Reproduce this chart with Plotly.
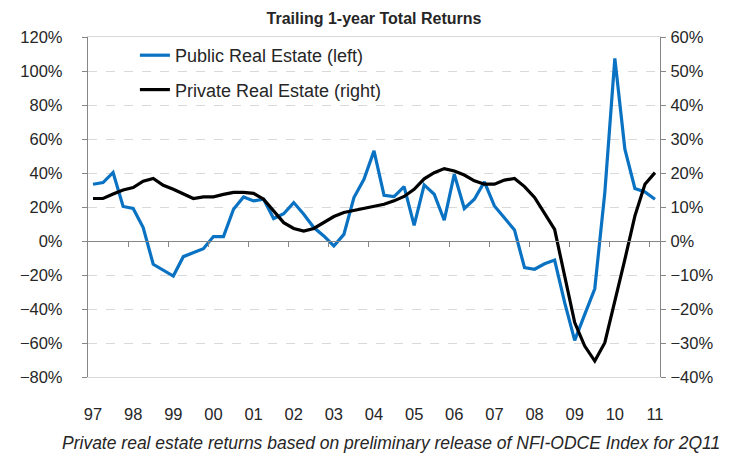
import plotly.graph_objects as go

# Quarterly data, 1997 .. 2011 (57 quarters)
year_labels = ["97", "98", "99", "00", "01", "02", "03", "04", "05", "06", "07", "08", "09", "10", "11"]

public_re = [33.4, 34.4, 40.3, 20.3, 19.1, 7.9, -13.7, -17.3, -20.6, -9.2,
             -6.8, -4.5, 2.6, 2.6, 18.7, 25.9, 23.6, 24.6, 13.2, 16.0,
             22.6, 15.7, 7.9, 3.0, -2.9, 3.9, 25.6, 36.3, 53.0, 26.9,
             26.1, 32.0, 9.2, 33.0, 27.5, 12.2, 39.3, 19.1, 24.6, 34.8,
             20.6, 13.2, 6.5, -15.7, -16.6, -13.4, -11.2, -36.3, -58.5, -43.2,
             -28.1, 28.5, 107.4, 54.0, 30.9, 28.9, 24.6]

private_re = [12.5, 12.5, 13.8, 15.0, 15.7, 17.6, 18.4, 16.4, 15.2, 13.8,
              12.5, 13.0, 13.0, 13.7, 14.3, 14.3, 14.0, 12.3, 8.8, 5.4,
              3.7, 2.9, 3.7, 5.4, 7.2, 8.4, 9.0, 9.5, 10.1, 10.8,
              11.8, 13.1, 15.2, 18.3, 20.1, 21.3, 20.6, 19.4, 17.7, 16.7,
              16.7, 17.9, 18.4, 16.0, 12.8, 8.0, 3.4, -10.3, -24.0, -30.9,
              -35.3, -29.9, -18.1, -5.4, 7.4, 16.7, 20.1]

quarters = list(range(len(public_re)))
label_pos = quarters[::4]
boundary_ticks = [q - 0.5 for q in quarters[4::4]]

FONT = "Liberation Sans, Arial, sans-serif"
AXIS = "#868686"
GRID = "#D9D9D9"
TXT = "#262626"

# page has an 8px default body margin; figure sized to fit the 736x454 window
W, H = 728, 446

fig = go.Figure()
fig.add_trace(go.Scatter(x=quarters, y=public_re, mode="lines", name="Public Real Estate (left)",
                         line=dict(color="#0A72C2", width=3.2), xaxis="x", yaxis="y",
                         legendgroup="a"))
fig.add_trace(go.Scatter(x=quarters, y=private_re, mode="lines", name="Private Real Estate (right)",
                         line=dict(color="#000000", width=3.2), xaxis="x2", yaxis="y2",
                         legendgroup="b"))

fig.update_layout(
    width=W, height=H,
    margin=dict(l=80, r=76, t=29, b=77),
    paper_bgcolor="white", plot_bgcolor="white",
    font=dict(family=FONT, size=16, color=TXT),
    title=dict(text="<b>Trailing 1-year Total Returns</b>", x=0.5, xref="paper",
               y=1 - 10 / H, yref="container", yanchor="middle",
               font=dict(family=FONT, size=16, color=TXT)),
    showlegend=True,
    legend=dict(x=0.082, y=1.0, xanchor="left", yanchor="top", bgcolor="rgba(0,0,0,0)",
                font=dict(family=FONT, size=18, color=TXT), tracegroupgap=8,
                traceorder="grouped"),
    xaxis=dict(range=[-0.5, len(quarters) - 0.5], tickmode="array", tickvals=label_pos,
               ticktext=year_labels, ticks="outside", ticklen=22, tickcolor="rgba(0,0,0,0)",
               showgrid=False, zeroline=False,
               showline=True, linecolor=GRID, linewidth=1, mirror=True, automargin=False,
               tickfont=dict(family=FONT, size=16.5, color=TXT)),
    xaxis2=dict(range=[-0.5, len(quarters) - 0.5], overlaying="x", anchor="free", position=0.4,
                side="bottom", tickmode="array", tickvals=boundary_ticks, ticks="outside",
                ticklen=5, tickcolor=AXIS, showticklabels=False, showgrid=False, automargin=False,
                zeroline=False, showline=True, linecolor=AXIS, linewidth=1.3),
    yaxis=dict(range=[-80, 120], dtick=20, tick0=0, ticksuffix="%", ticks="outside", ticklen=5,
               tickcolor=AXIS, showline=True, linecolor=AXIS, linewidth=1.3,
               showgrid=True, gridcolor=GRID, griddash="dash", gridwidth=1.3,
               zeroline=False, ticklabelstandoff=16, automargin=False,
               tickfont=dict(family=FONT, size=16.5, color=TXT)),
    yaxis2=dict(range=[-40, 60], dtick=10, tick0=0, ticksuffix="%", overlaying="y", side="right",
                anchor="x", ticks="outside", ticklen=5, tickcolor=AXIS, showline=True,
                linecolor=AXIS, linewidth=1.3, showgrid=False, zeroline=False, automargin=False,
                ticklabelstandoff=1, tickfont=dict(family=FONT, size=16.5, color=TXT)),
    annotations=[dict(text="<i>Private real estate returns based on preliminary release of NFI-ODCE Index for 2Q11</i>",
                      xref="paper", yref="paper", x=0.53, y=-0.194, xanchor="center", yanchor="middle",
                      showarrow=False, font=dict(family=FONT, size=17.5, color=TXT))],
)

fig.write_html("out.html")
